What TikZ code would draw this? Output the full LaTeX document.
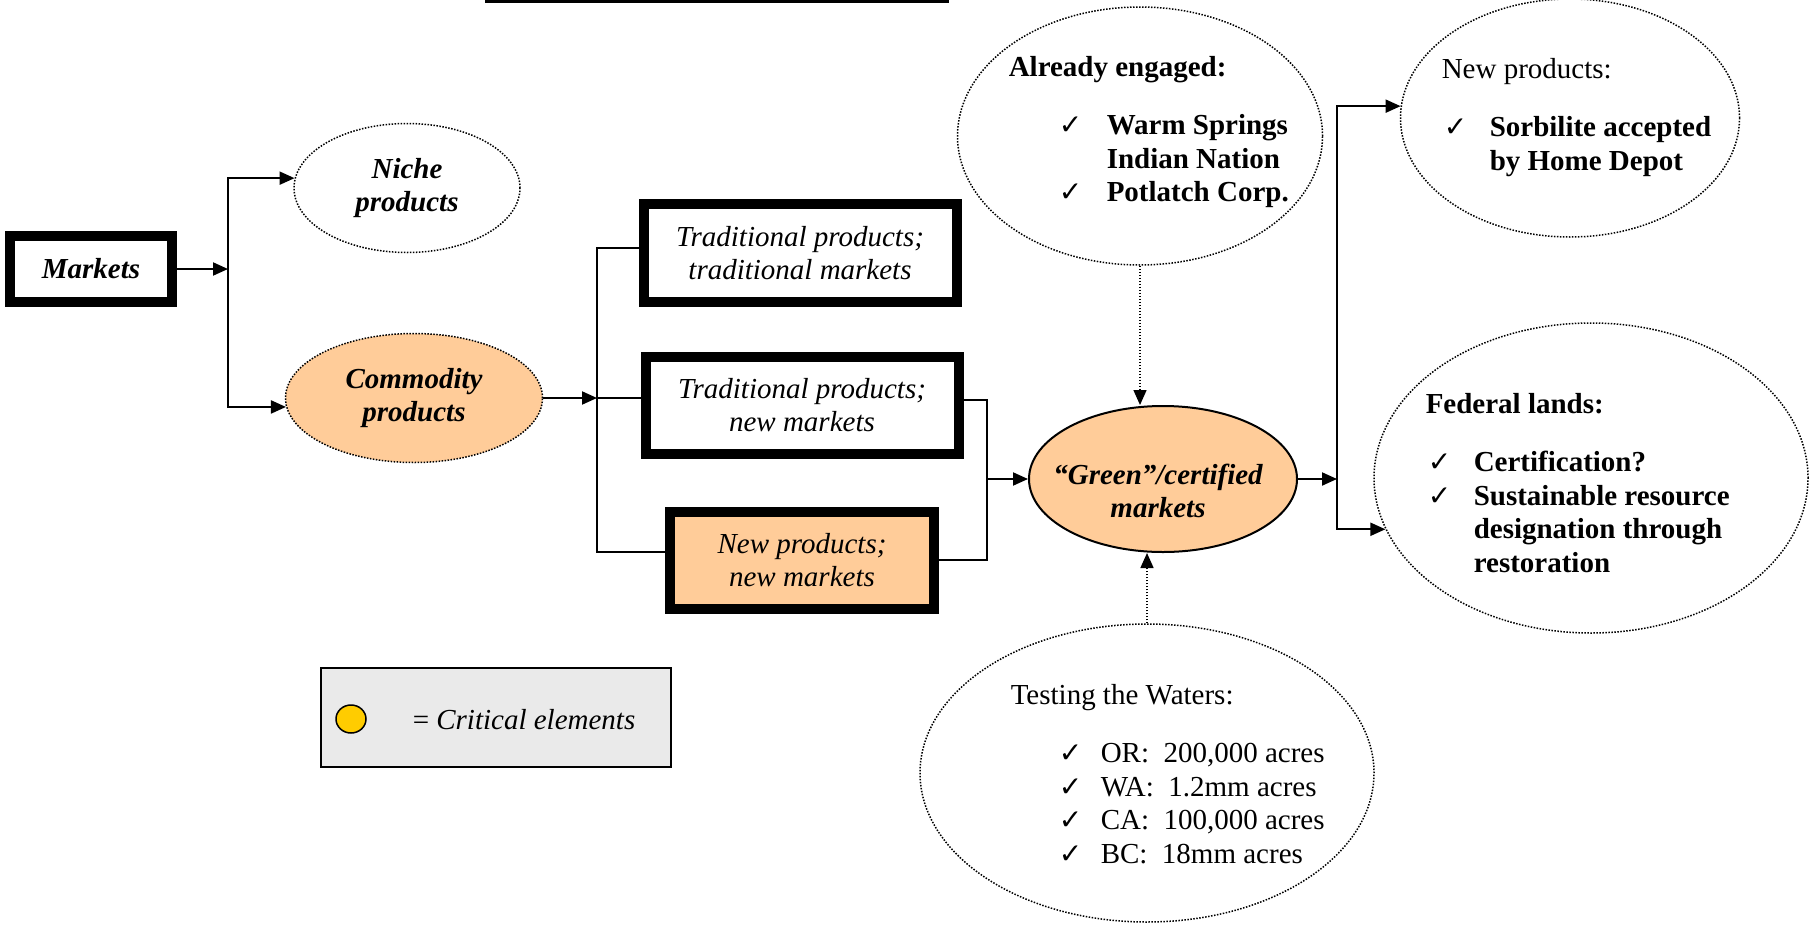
\documentclass[tikz,border=0pt]{standalone}
\usepackage{fontspec}
\setmainfont{Liberation Serif}
\newfontfamily\tickfont{DejaVu Sans}
\usepackage{tikz}
\usetikzlibrary{shapes.geometric,arrows.meta}

\definecolor{peach}{RGB}{255,204,153}
\definecolor{legendgray}{RGB}{234,234,234}
\definecolor{gold}{RGB}{255,204,0}

\newcommand{\bigfont}{\fontsize{29}{33.5}\selectfont}
\newcommand{\okmark}[1][46pt]{\makebox[#1][l]{\tickfont\fontsize{28}{28}\selectfont ✓}}

\tikzset{
  txt/.style = {font=\bigfont, inner sep=0pt},
  thickbox/.style = {rectangle, draw, line width=10pt, inner sep=0pt, align=center, font=\bigfont\itshape},
  bubble/.style = {ellipse, draw, line width=1.5pt, dash pattern=on 1.5pt off 1.5pt, inner sep=0pt, align=center, font=\bigfont\bfseries\itshape},
  arrow/.style = {line width=2pt, -{Triangle[length=15pt,width=13pt]}},
  wire/.style = {line width=1.5pt},
  dotarrow/.style = {line width=1.5pt, dash pattern=on 1.5pt off 1.5pt, -{Triangle[length=15pt,width=13pt]}}
}

\begin{document}
\begin{tikzpicture}[x = 1pt, y = -1pt, line width = 1.5pt]
\useasboundingbox (0,0) rectangle (1811,926);
\draw[line width = 3pt] (485,1.5) -- (949,1.5);

\draw (91,269) node[thickbox, minimum width=162pt, minimum height=66pt, font=\bigfont\bfseries\itshape](markets){Markets}
    (407,188) node[bubble, minimum width=226pt, minimum height=129pt](niche){Niche\\products}
    (414,398) node[bubble, fill=peach, minimum width=257pt, minimum height=129pt](commodity){Commodity\\products}
    (800,253) node[thickbox, minimum width=313pt, minimum height=98pt](trad){Traditional products;\\traditional markets}
    (802,405) node[thickbox, minimum width=313pt, minimum height=97pt](tradnew){Traditional products;\\new markets}
    (802,560) node[thickbox, fill=peach, minimum width=264pt, minimum height=97pt](newnew){New products;\\new markets}
    (1163,479) node[ellipse, draw, fill=peach, line width=2pt, minimum width=268pt, minimum height=146pt](green){}
    (1140,136) node[bubble, minimum width=365pt, minimum height=258pt](engaged){}
    (1570,118) node[bubble, minimum width=339pt, minimum height=238pt](newprod){}
    (1591,478) node[bubble, minimum width=434pt, minimum height=310pt](federal){}
    (1147,773) node[bubble, minimum width=454pt, minimum height=298pt](testing){};

\node[txt, align=center, font=\bigfont\bfseries\itshape] (greentxt) at (1158,491) {“Green”/certified\\markets};
\node[txt, anchor=base west] (engagedtxt) at (1008,76) {\parbox[t]{400pt}{\bfseries Already engaged:\\[25pt]
    \hspace*{50pt}\okmark[48pt]Warm Springs\\
    \hspace*{98pt}Indian Nation\\
    \hspace*{50pt}\okmark[48pt]Potlatch Corp.}};
\node[txt, anchor=base west] (newprodtxt) at (1441,78) {\parbox[t]{400pt}{New products:\\[25pt]
    \hspace*{2pt}\okmark\textbf{Sorbilite accepted}\\
    \hspace*{48pt}\textbf{by Home Depot}}};
\node[txt, anchor=base west] (federaltxt) at (1425,413) {\parbox[t]{400pt}{\bfseries Federal lands:\\[25pt]
    \hspace*{2pt}\okmark Certification?\\
    \hspace*{2pt}\okmark Sustainable resource\\
    \hspace*{48pt}designation through\\
    \hspace*{48pt}restoration}};
\node[txt, anchor=base west] (testingtxt) at (1010,704) {\parbox[t]{400pt}{Testing the Waters:\\[25pt]
    \hspace*{48pt}\okmark[42pt]OR:~ 200,000 acres\\
    \hspace*{48pt}\okmark[42pt]WA:~ 1.2mm acres\\
    \hspace*{48pt}\okmark[42pt]CA:~ 100,000 acres\\
    \hspace*{48pt}\okmark[42pt]BC:~ 18mm acres}};

\draw (496,717) node[rectangle, draw, fill=legendgray, line width=2pt, minimum width=350pt, minimum height=99pt](legend){}
    (351,719) node[ellipse, draw, fill=gold, line width=1.5pt, minimum width=30pt, minimum height=28pt](legenddot){};
\node[txt, anchor=west] (legendtxt) at (412,720) {= \textit{Critical elements}};

\coordinate (splitm) at (228,269);
\coordinate (splitc) at (597,398);
\coordinate (joinr) at (987,479);
\coordinate (splitg) at (1337,479);

\draw [arrow] (markets.east) -- (splitm);
\draw [arrow] (splitm) |- (niche.175);
\draw [arrow] (splitm) |- (commodity.184);
\draw [arrow] (commodity.east) -- (splitc);
\draw [wire] (splitc) |- ([yshift=5pt]trad.west);
\draw [wire] (splitc) -- (splitc -| tradnew.west);
\draw [wire] (splitc) |- ([yshift=8pt]newnew.west);
\draw [wire] ([yshift=5pt]tradnew.east) -| (joinr);
\draw [wire] (newnew.east) -| (joinr);
\draw [arrow] (joinr) -- (green.west);
\draw [arrow] (green.east) -- (splitg);
\draw [arrow] (splitg) |- (newprod.176);
\draw [arrow] (splitg) |- (federal.194);
\draw [dotarrow] (engaged.south) -- (engaged.south |- green.north);
\draw [dotarrow] (testing.north) -- (testing.north |- green.south);
\end{tikzpicture}
\end{document}
